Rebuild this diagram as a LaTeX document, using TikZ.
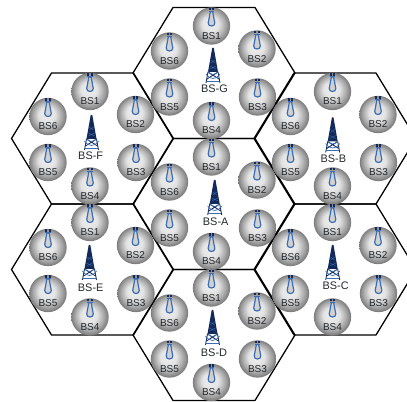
\documentclass[tikz,border=0pt]{standalone}
\usepackage{fontspec}
\setmainfont{Liberation Sans}
\definecolor{antblue}{HTML}{3A6DB3}
\definecolor{towernavy}{HTML}{12295A}
\definecolor{txtgray}{HTML}{24282C}
\pgfdeclareradialshading{bsshade}{\pgfpoint{-2.5bp}{3.5bp}}{
  color(0bp)=(white!88!gray);
  color(11bp)=(white!78!gray);
  color(20bp)=(black!36);
  color(25bp)=(black!52);
  color(28bp)=(black!78);
  color(31bp)=(black!85)}
\tikzset{
  hexline/.style={draw=black,line width=0.95pt,line join=miter},
  bsball/.style={circle,minimum size=28pt,inner sep=0pt,shading=bsshade},
  bstext/.style={text=txtgray,font=\fontsize{7.5pt}{8pt}\selectfont,inner sep=0pt},
  towertext/.style={text=txtgray,font=\fontsize{8.2pt}{9pt}\selectfont,inner sep=0pt},
  antbody/.style={draw=antblue,line width=0.9pt,fill=black!18,line join=round},
  antcap/.style={fill=towernavy,draw=none},
  towerbody/.style={fill=towernavy,draw=none},
  towerleg/.style={draw=towernavy,line width=0.65pt},
  towerarc/.style={draw=antblue,line width=0.55pt}
}
\newcommand{\hexcell}[2]{%
  \draw[hexline] (#1-81,#2) -- (#1-41,#2-65.5) -- (#1+41,#2-65.5) -- (#1+81,#2) -- (#1+41,#2+65.5) -- (#1-41,#2+65.5) -- cycle;}
\newcommand{\antennamark}{%
  \path[antbody] (-1.1,-14.5) -- (1.1,-14.5) -- (3.3,-3) .. controls (3.7,1) and (-3.7,1) .. (-3.3,-3) -- cycle;
  \path[antcap] (-2.7,-18) rectangle (-0.7,-15.5);
  \path[antcap] (0.7,-18) rectangle (2.7,-15.5);
  \draw[antblue,line width=0.5pt] (-2.7,-15) -- (2.7,-15);}
\newcommand{\towermark}{%
  \path[towerbody] (0,0) -- (0.8,0) -- (5,24) -- (-5,24) -- (-0.8,0) -- cycle;
  \draw[towerleg] (-5,24) -- (-7,35);
  \draw[towerleg] (5,24) -- (7,35);
  \draw[towerleg] (-5,24) -- (6,31) (5,24) -- (-6,31);
  \draw[towerarc] (-7,26) .. controls (-3,32) and (3,32) .. (7,26);
  \draw[towerarc] (-5.2,23.5) .. controls (-2,27.5) and (2,27.5) .. (5.2,23.5);
  \draw[towerarc] (-6.3,33) -- (6.3,33);
  \draw[antblue,line width=0.25pt] (-3,18) -- (3,21) (3,18) -- (-3,21) (-2.2,12) -- (2.2,15) (2.2,12) -- (-2.2,15);}
\begin{document}
\begin{tikzpicture}[x=0.75pt,y=-0.75pt]
\useasboundingbox (0,0) rectangle (407,402);
\clip (0,0) rectangle (407,402);
\fill[white] (0,0) rectangle (407,402);
\foreach \hx/\hy in {92.5/138.5,92.5/269.5,214/73,214/204,214/335,335/138.5,335/269.5}{\hexcell{\hx}{\hy}}
\foreach \cname/\cx/\cy/\tx/\ty/\lx/\ly in {
  F/92.5/138.5/-1/-23.5/-1.8/17.5,
  E/92.5/269.5/-3/-24.5/-1.8/18,
  G/214/73/-1/-25/0.5/16,
  A/214/204/0.7/-24/1.7/18,
  D/214/335/-1.5/-25/0/17.6,
  B/335/138.5/-2.3/-21/-1.7/20.5,
  C/335/269.5/-2.3/-24.5/0.7/16}{
  \begin{scope}[shift={(\cx,\cy)}]
    \begin{scope}[shift={(\tx,\ty)}]\towermark\end{scope}
    \node[towertext,name=\cname-t] at (\lx,\ly) {BS-\cname};
    \foreach \bsi/\bx/\by in {1/-2.5/-47,2/43/-24,3/43.5/24,4/-2.5/47.5,5/-44.5/24,6/-44.5/-22}{
      \node[bsball,name=\cname-\bsi] at (\bx,\by) {};
      \begin{scope}[shift={(\bx,\by)}]\antennamark\end{scope}
      \node[bstext,name=\cname-\bsi-t] at ([yshift=-7.5pt]\cname-\bsi.center) {BS\bsi};
    }
  \end{scope}
}
\end{tikzpicture}
\end{document}
